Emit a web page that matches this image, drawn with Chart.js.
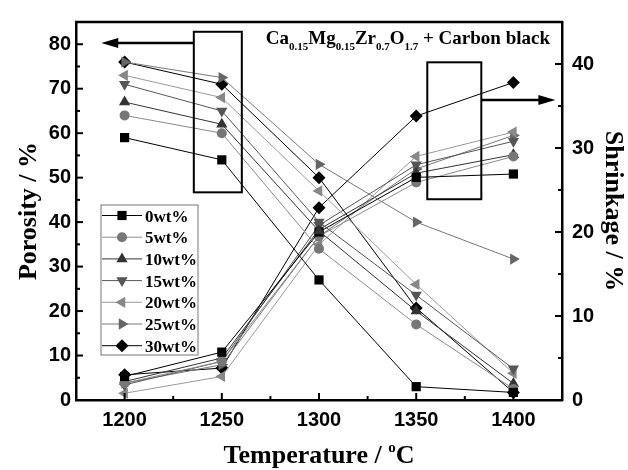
<!DOCTYPE html>
<html>
<head>
<meta charset="utf-8">
<script src="https://cdn.jsdelivr.net/npm/chart.js@4.4.0/dist/chart.umd.min.js"></script>
<style>
  html, body { margin: 0; padding: 0; background: #fff; }
  #wrap { width: 628px; height: 470px; position: relative; }
</style>
</head>
<body>
<div id="wrap"><canvas id="chart"></canvas></div>
<script>
// --------------------------------------------------------------------
// Data
// --------------------------------------------------------------------
const temps = [1200, 1250, 1300, 1350, 1400];
const seriesNames = ['0wt%', '5wt%', '10wt%', '15wt%', '20wt%', '25wt%', '30wt%'];

// porosity, left axis (%)
const porosity0  = [59, 54, 27, 3, 1.7];
const porosity5  = [64, 60, 34, 17, 2.5];
const porosity10 = [67, 62, 38, 20, 3.7];
const porosity15 = [71, 65, 40, 23.6, 7];
const porosity20 = [73, 68, 47, 26, 6];
const porosity25 = [76, 72.5, 53, 40, 31.7];
const porosity30 = [76, 71, 50, 20.7, 1.7];

// shrinkage, right axis (%)
const shrink0  = [2.8, 5.7, 20.0, 26.5, 26.9];
const shrink5  = [2.0, 4.6, 19.5, 25.9, 29.0];
const shrink10 = [2.2, 5.0, 20.3, 27.0, 29.2];
const shrink15 = [1.8, 4.6, 20.8, 28.0, 30.8];
const shrink20 = [0.8, 2.8, 18.5, 29.0, 31.9];
const shrink25 = [2.0, 4.2, 19.5, 27.5, 31.5];
const shrink30 = [3.0, 3.8, 22.9, 33.8, 37.8];

// tick labels
const xTicks = [1200, 1250, 1300, 1350, 1400];
const xMinor = [1225, 1275, 1325, 1375];
const porosityTicks = [0, 10, 20, 30, 40, 50, 60, 70, 80];
const porosityMinor = [5, 15, 25, 35, 45, 55, 65, 75];
const shrinkTicks = [0, 10, 20, 30, 40];
const shrinkMinor = [5, 15, 25, 35];

const porositySeries = [porosity0, porosity5, porosity10, porosity15, porosity20, porosity25, porosity30];
const shrinkSeries = [shrink0, shrink5, shrink10, shrink15, shrink20, shrink25, shrink30];

// --------------------------------------------------------------------
// Styles
// --------------------------------------------------------------------
const markers = [
    { style: 'rect', rot: 0, r: 6.5, fill: '#000', line: '#000' },
    { style: 'circle', rot: 0, r: 5, fill: '#777', line: '#8a8a8a' },
    { style: 'triangle', rot: 0, r: 6.5, fill: '#333', line: '#333' },
    { style: 'triangle', rot: 180, r: 6.5, fill: '#555', line: '#555' },
    { style: 'triangle', rot: 270, r: 6.5, fill: '#888', line: '#999' },
    { style: 'triangle', rot: 90, r: 6.5, fill: '#666', line: '#777' },
    { style: 'rectRot', rot: 0, r: 6.5, fill: '#000', line: '#000' }
];

const tickFont = { family: "'Liberation Sans', Arial, sans-serif", size: 20, weight: 'bold' };
const titleFont = { family: "'Liberation Serif', 'Times New Roman', serif", size: 26, weight: 'bold' };
const serif = "'Liberation Serif', 'Times New Roman', serif";

function makeDataset(values, i, axis) {
    const m = markers[i];
    return {
        label: seriesNames[i],
        data: temps.map((t, k) => ({ x: t, y: values[k] })),
        yAxisID: axis,
        borderColor: m.line,
        borderWidth: 1,
        backgroundColor: m.fill,
        pointStyle: m.style,
        rotation: m.rot,
        pointRadius: m.r,
        pointBackgroundColor: m.fill,
        pointBorderColor: m.fill,
        pointBorderWidth: 0,
        tension: 0
    };
}

const datasets = [];
porositySeries.forEach((s, i) => datasets.push(makeDataset(s, i, 'y')));
shrinkSeries.forEach((s, i) => datasets.push(makeDataset(s, i, 'y2')));

// --------------------------------------------------------------------
// Extra drawing: frame, inward ticks, boxes/arrows, legend, texts
// --------------------------------------------------------------------
const extrasPlugin = {
    id: 'extras',
    afterDraw(chart) {
        const { ctx, chartArea: a, scales: { x, y, y2 } } = chart;
        ctx.save();

        // top border
        ctx.strokeStyle = '#000';
        ctx.lineWidth = 2.5;
        ctx.beginPath();
        ctx.moveTo(a.left - 1, a.top);
        ctx.lineTo(a.right + 1, a.top);
        ctx.stroke();

        // inward ticks
        ctx.lineWidth = 2;
        const vTick = (vals, len) => vals.forEach(v => {
            const px = x.getPixelForValue(v);
            ctx.beginPath(); ctx.moveTo(px, a.bottom); ctx.lineTo(px, a.bottom - len); ctx.stroke();
        });
        const hTick = (scale, vals, len, fromLeft) => vals.forEach(v => {
            const py = scale.getPixelForValue(v);
            const x0 = fromLeft ? a.left : a.right;
            ctx.beginPath(); ctx.moveTo(x0, py); ctx.lineTo(fromLeft ? x0 + len : x0 - len, py); ctx.stroke();
        });
        vTick(xTicks, 7); vTick(xMinor, 4);
        hTick(y, porosityTicks.slice(1), 7, true); hTick(y, porosityMinor, 4, true);
        hTick(y2, shrinkTicks.slice(1), 7, false); hTick(y2, shrinkMinor, 4, false);

        // boxes with arrows pointing at the axes
        const arrow = (x0, x1, py) => {
            const dir = x1 < x0 ? -1 : 1;
            ctx.lineWidth = 2.5;
            ctx.beginPath(); ctx.moveTo(x0, py); ctx.lineTo(x1 - dir * 14, py); ctx.stroke();
            ctx.fillStyle = '#000';
            ctx.beginPath();
            ctx.moveTo(x1, py);
            ctx.lineTo(x1 - dir * 17, py - 5);
            ctx.lineTo(x1 - dir * 17, py + 5);
            ctx.closePath(); ctx.fill();
        };
        ctx.lineWidth = 2;
        const b1 = { l: x.getPixelForValue(1235.6), r: x.getPixelForValue(1260.3), t: y.getPixelForValue(82.8), b: y.getPixelForValue(46.7) };
        ctx.strokeRect(b1.l, b1.t, b1.r - b1.l, b1.b - b1.t);
        arrow(b1.l, x.getPixelForValue(1188), y.getPixelForValue(80.3));
        ctx.lineWidth = 2;
        const b2 = { l: x.getPixelForValue(1355.7), r: x.getPixelForValue(1383.5), t: y2.getPixelForValue(40.2), b: y2.getPixelForValue(23.9) };
        ctx.strokeRect(b2.l, b2.t, b2.r - b2.l, b2.b - b2.t);
        arrow(b2.r, x.getPixelForValue(1421.6), y2.getPixelForValue(35.7));

        // legend
        const lx = a.left + 25, ly = a.top + 183, rowH = 21.7;
        ctx.lineWidth = 1;
        ctx.strokeStyle = '#777';
        ctx.strokeRect(lx, ly, 97, 150);
        seriesNames.forEach((name, i) => {
            const m = markers[i];
            const cy = ly + 10.5 + i * rowH;
            ctx.strokeStyle = m.line;
            ctx.lineWidth = 1;
            ctx.beginPath(); ctx.moveTo(lx + 1, cy); ctx.lineTo(lx + 41, cy); ctx.stroke();
            ctx.fillStyle = m.fill;
            Chart.helpers.drawPoint(ctx, { pointStyle: m.style, rotation: m.rot, radius: m.r, borderWidth: 0 }, lx + 21, cy);
            ctx.fillStyle = '#000';
            ctx.font = 'bold 17px ' + serif;
            ctx.textBaseline = 'alphabetic';
            ctx.textAlign = 'left';
            ctx.fillText(name, lx + 44, cy + 6);
        });

        // formula title with subscripts
        const parts = [['Ca', 0], ['0.15', 1], ['Mg', 0], ['0.15', 1], ['Zr', 0], ['0.7', 1], ['O', 0], ['1.7', 1], [' + Carbon black', 0]];
        const big = 'bold 19px ' + serif, small = 'bold 11px ' + serif;
        let w = 0;
        parts.forEach(p => { ctx.font = p[1] ? small : big; w += ctx.measureText(p[0]).width; });
        let tx = a.right - 12 - w;
        const base = a.top + 22;
        ctx.fillStyle = '#000';
        parts.forEach(p => {
            ctx.font = p[1] ? small : big;
            ctx.fillText(p[0], tx, base + (p[1] ? 6 : 0));
            tx += ctx.measureText(p[0]).width;
        });

        // x axis title with superscript
        const t1 = 'Temperature / ', sup = 'o', t2 = 'C';
        const tf = 'bold 26px ' + serif, sf = 'bold 15px ' + serif;
        ctx.font = tf; const w1 = ctx.measureText(t1).width, w3 = ctx.measureText(t2).width;
        ctx.font = sf; const w2 = ctx.measureText(sup).width;
        let sx = (a.left + a.right) / 2 - (w1 + w2 + w3) / 2;
        const sy = 463;
        ctx.font = tf; ctx.fillText(t1, sx, sy); sx += w1;
        ctx.font = sf; ctx.fillText(sup, sx, sy - 11); sx += w2;
        ctx.font = tf; ctx.fillText(t2, sx, sy);

        ctx.restore();
    }
};

// --------------------------------------------------------------------
// Chart
// --------------------------------------------------------------------
const axisCommon = {
    grid: { display: false, drawTicks: false },
    border: { display: true, color: '#000', width: 2.5 }
};

new Chart(document.getElementById('chart'), {
    type: 'line',
    data: { datasets: datasets },
    options: {
        responsive: true,
        maintainAspectRatio: false,
        animation: false,
        devicePixelRatio: 1,
        layout: { padding: { top: 9, left: 0, right: 0, bottom: 0 } },
        plugins: { legend: { display: false }, tooltip: { enabled: false } },
        scales: {
            x: {
                ...axisCommon,
                type: 'linear',
                position: 'bottom',
                min: 1175,
                max: 1425,
                afterBuildTicks: s => { s.ticks = xTicks.map(v => ({ value: v })); },
                afterFit: s => { s.height = 70; },
                ticks: { color: '#000', font: tickFont, padding: 8, maxRotation: 0, callback: v => String(v) }
            },
            y: {
                ...axisCommon,
                type: 'linear',
                position: 'left',
                min: 0,
                max: 85,
                afterBuildTicks: s => { s.ticks = porosityTicks.map(v => ({ value: v })); },
                afterFit: s => { s.width = 76; },
                ticks: { color: '#000', font: tickFont, padding: 5, callback: v => String(v) },
                title: { display: true, text: 'Porosity / %', color: '#000', font: titleFont, padding: { top: 14, bottom: 0 } }
            },
            y2: {
                ...axisCommon,
                type: 'linear',
                position: 'right',
                min: 0,
                max: 45,
                afterBuildTicks: s => { s.ticks = shrinkTicks.map(v => ({ value: v })); },
                afterFit: s => { s.width = 66; },
                ticks: { color: '#000', font: tickFont, padding: 10, callback: v => String(v) },
                title: { display: true, text: 'Shrinkage / %', color: '#000', font: titleFont, padding: { top: 0, bottom: 0 } }
            }
        }
    },
    plugins: [extrasPlugin]
});
</script>
</body>
</html>
